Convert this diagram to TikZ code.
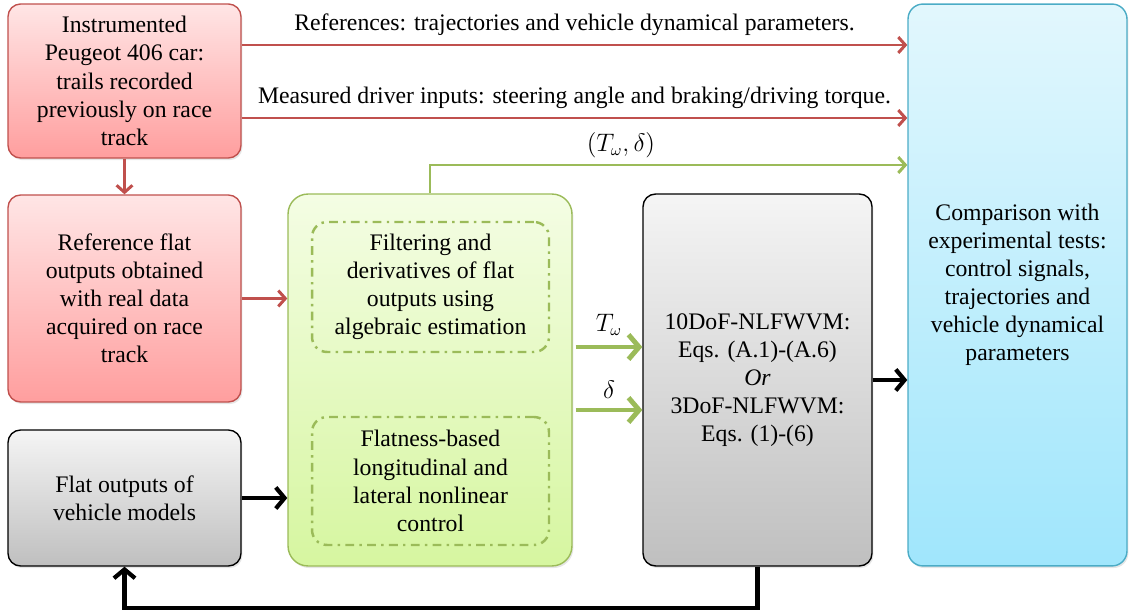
\documentclass[tikz,border=0pt]{standalone}
\usepackage{fontspec}
\setmainfont{Liberation Serif}
\usetikzlibrary{arrows.meta,calc,shadows}
\definecolor{redline}{HTML}{C0504D}
\definecolor{greenline}{HTML}{9BBB59}
\definecolor{blueline}{HTML}{4BACC6}
\begin{document}
\begin{tikzpicture}[x=0.02cm, y=-0.02cm,
		box/.style={draw, rounded corners=0.25cm, align=center, line width=0.8pt,
			font=\fontsize{13.5pt}{16pt}\selectfont,
			drop shadow={opacity=0.2, shadow xshift=0.8pt, shadow yshift=-1.2pt}},
		redbox/.style={box, draw=redline, top color=red!10, bottom color=red!38!white, minimum width=4.66cm},
		graybox/.style={box, draw=black, top color=gray!8, bottom color=gray!50},
		greenbox/.style={box, draw=greenline, rounded corners=0.4cm, top color={rgb,255:red,244;green,253;blue,228}, bottom color={rgb,255:red,214;green,246;blue,160}},
		bluebox/.style={box, draw=blueline, rounded corners=0.3cm, top color={rgb,255:red,226;green,247;blue,253}, bottom color={rgb,255:red,160;green,230;blue,252}},
		dashbox/.style={draw=greenline, rounded corners=0.3cm, line width=1.4pt, align=center,
			dash pattern=on 5pt off 3pt on 1.4pt off 3pt, font=\fontsize{13.5pt}{16pt}\selectfont,
			minimum width=4.74cm},
		redarrow/.style={draw=redline, line width=1.7pt, -{Straight Barb[length=4pt,width=9pt]}},
		greenarrow/.style={draw=greenline, line width=1.7pt, -{Straight Barb[length=4pt,width=9pt]}},
		thickgreen/.style={draw=greenline, line width=2.8pt, -{Straight Barb[length=6pt,width=14pt]}},
		blackarrow/.style={draw=black, line width=2.4pt, -{Straight Barb[length=5pt,width=12pt]}},
		lbl/.style={font=\fontsize{13.5pt}{16pt}\selectfont}]
	\useasboundingbox (0,0) rectangle (1129,614);

	% left column
	\node[redbox, minimum height=3.08cm] (car) at (124.5,81)
		{Instrumented\\Peugeot 406 car:\\trails recorded\\previously on race\\track};
	\node[redbox, minimum height=4.14cm] (ref) at (124.5,298.5)
		{Reference flat\\outputs obtained\\with real data\\acquired on race\\track};
	\node[graybox, minimum width=4.66cm, minimum height=2.72cm] (flat) at (124.5,498)
		{Flat outputs of\\vehicle models};

	% control block
	\node[greenbox, minimum width=5.68cm, minimum height=7.44cm] (ctrl) at (430,380) {};
	\node[dashbox, minimum height=2.6cm] (filt) at (430.5,287)
		{Filtering and\\derivatives of flat\\outputs using\\algebraic estimation};
	\node[dashbox, minimum height=2.56cm] (law) at (430.5,481)
		{Flatness-based\\longitudinal and\\lateral nonlinear\\control};

	% vehicle models and comparison
	\node[graybox, minimum width=4.58cm, minimum height=7.44cm] (model) at (757.5,380)
		{10DoF-NLFWVM:\\Eqs. (A.1)-(A.6)\\\textit{Or}\\3DoF-NLFWVM:\\Eqs. (1)-(6)};
	\node[bluebox, minimum width=4.38cm, minimum height=11.24cm] (comp) at (1017.5,285)
		{Comparison with\\experimental tests:\\control signals,\\trajectories and\\vehicle dynamical\\parameters};

	% start points of the side arrows
	\coordinate (refs) at ($(car.east)+(0,-36)$);
	\coordinate (meas) at ($(car.east)+(0,37)$);
	\coordinate (torq) at ($(ctrl.east)+(3,-33)$);
	\coordinate (steer) at ($(ctrl.east)+(3,30)$);

	% connections
	\draw[redarrow] (refs) -- (refs -| comp.west)
		node[lbl, midway, above, yshift=1pt] {References: trajectories and vehicle dynamical parameters.};
	\draw[redarrow] (meas) -- (meas -| comp.west)
		node[lbl, midway, above, yshift=1pt] {Measured driver inputs: steering angle and braking/driving torque.};
	\draw[redarrow] (car.south) -- (ref.north);
	\draw[redarrow] (ref.east) -- (ref.east -| ctrl.west);
	\draw[greenarrow] (ctrl.north) |- ($(comp.west)+(0,-120)$)
		node[lbl, pos=0.7, above] {$\left(T_\omega,\delta\right)$};
	\draw[thickgreen] (torq) -- (torq -| model.west)
		node[lbl, midway, above, yshift=2pt] {$T_\omega$};
	\draw[thickgreen] (steer) -- (steer -| model.west)
		node[lbl, midway, above, yshift=2pt] {$\delta$};
	\draw[blackarrow] (flat.east) -- (flat.east -| ctrl.west);
	\draw[blackarrow] (model.east) -- (model.east -| comp.west);
	\draw[blackarrow] (model.south) -- ++(0,41) -| (flat.south);
\end{tikzpicture}
\end{document}
